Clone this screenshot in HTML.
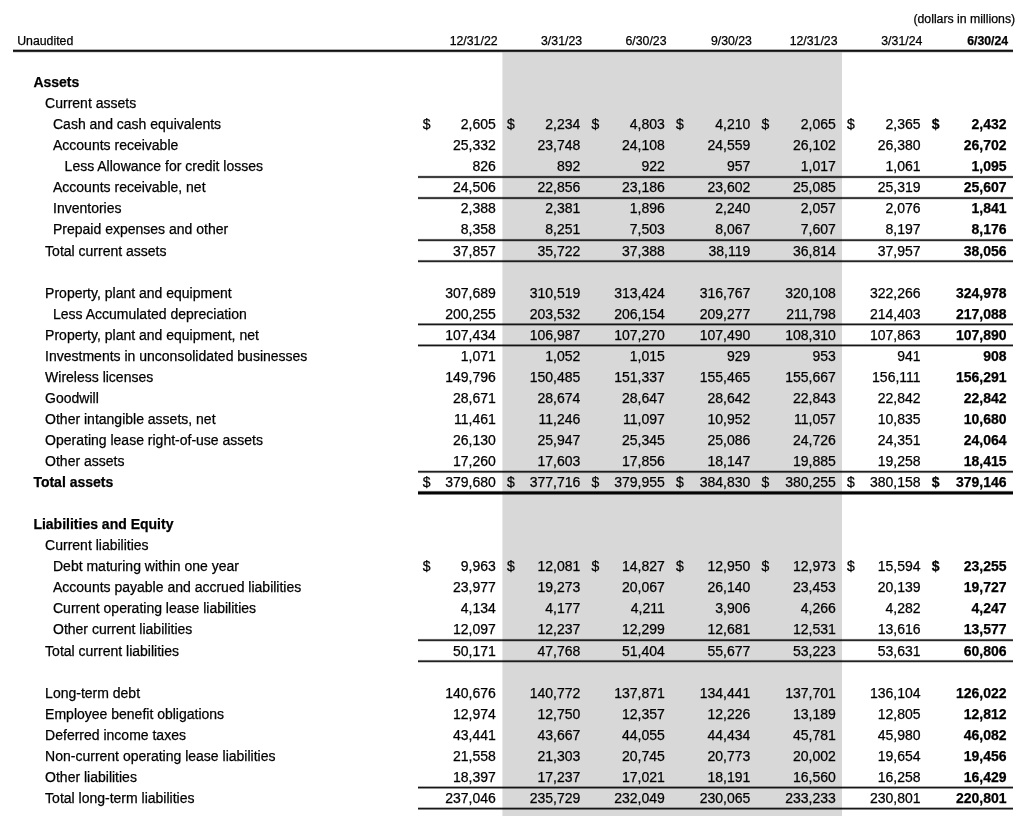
<!DOCTYPE html><html><head><meta charset="utf-8"><title>Balance Sheet</title><style>
html,body{margin:0;padding:0;background:#fff;}
body{filter:grayscale(1);}
body{width:1024px;height:816px;overflow:hidden;position:relative;font-family:"Liberation Sans",sans-serif;color:#000;}
.t{position:absolute;white-space:pre;font-size:14px;line-height:16px;height:16px;}
.s{position:absolute;white-space:pre;font-size:12.3px;line-height:14px;height:14px;}
.r{text-align:right;}
.b{font-weight:bold;}
.t,.s{-webkit-text-stroke:0.25px #000;}
.t.b,.s.b{-webkit-text-stroke:0.25px #000;}
.ln{position:absolute;background:#222;}
#gray{position:absolute;left:503px;top:53px;width:339px;height:763px;background:#d8d8d8;}
#gedge{position:absolute;left:502px;top:53px;width:1px;height:763px;background:#e8e8e8;}
#gtop{position:absolute;left:502px;top:52px;width:340px;height:1px;background:#e6e6e6;}
</style></head><body>
<div id="gray"></div><div id="gedge"></div><div id="gtop"></div>
<div class="s r" style="right:8.80px;top:11.90px;">(dollars in millions)</div>
<div class="s" style="left:17.2px;top:34.20px;">Unaudited</div>
<div class="s r" style="right:526.45px;top:34.20px;">12/31/22</div>
<div class="s r" style="right:441.95px;top:34.20px;">3/31/23</div>
<div class="s r" style="right:357.50px;top:34.20px;">6/30/23</div>
<div class="s r" style="right:272.05px;top:34.20px;">9/30/23</div>
<div class="s r" style="right:186.50px;top:34.20px;">12/31/23</div>
<div class="s r" style="right:101.70px;top:34.20px;">3/31/24</div>
<div class="s r b" style="right:15.80px;top:34.20px;">6/30/24</div>
<div class="ln" style="left:13px;top:49px;width:1000px;height:1px;background:rgba(0,0,0,0.310);"></div>
<div class="ln" style="left:13px;top:50px;width:1000px;height:1px;background:rgba(0,0,0,0.934);"></div>
<div class="ln" style="left:13px;top:51px;width:1000px;height:1px;background:rgba(0,0,0,0.815);"></div>
<div class="ln" style="left:13px;top:52px;width:1000px;height:1px;background:rgba(0,0,0,0.135);"></div>
<div class="t b" style="left:33.40px;top:74.08px;">Assets</div>
<div class="t" style="left:45.10px;top:95.13px;">Current assets</div>
<div class="t" style="left:53.00px;top:116.19px;">Cash and cash equivalents</div>
<div class="t r" style="right:528.15px;top:116.19px;">2,605</div>
<div class="t" style="left:422.80px;top:116.19px;">$</div>
<div class="t r" style="right:443.65px;top:116.19px;">2,234</div>
<div class="t" style="left:507.05px;top:116.19px;">$</div>
<div class="t r" style="right:359.20px;top:116.19px;">4,803</div>
<div class="t" style="left:591.55px;top:116.19px;">$</div>
<div class="t r" style="right:273.75px;top:116.19px;">4,210</div>
<div class="t" style="left:676.00px;top:116.19px;">$</div>
<div class="t r" style="right:188.20px;top:116.19px;">2,065</div>
<div class="t" style="left:761.45px;top:116.19px;">$</div>
<div class="t r" style="right:103.40px;top:116.19px;">2,365</div>
<div class="t" style="left:847.00px;top:116.19px;">$</div>
<div class="t r b" style="right:17.50px;top:116.19px;">2,432</div>
<div class="t b" style="left:931.80px;top:116.19px;">$</div>
<div class="t" style="left:53.00px;top:137.24px;">Accounts receivable</div>
<div class="t r" style="right:528.15px;top:137.24px;">25,332</div>
<div class="t r" style="right:443.65px;top:137.24px;">23,748</div>
<div class="t r" style="right:359.20px;top:137.24px;">24,108</div>
<div class="t r" style="right:273.75px;top:137.24px;">24,559</div>
<div class="t r" style="right:188.20px;top:137.24px;">26,102</div>
<div class="t r" style="right:103.40px;top:137.24px;">26,380</div>
<div class="t r b" style="right:17.50px;top:137.24px;">26,702</div>
<div class="t" style="left:64.60px;top:158.30px;">Less Allowance for credit losses</div>
<div class="t r" style="right:528.15px;top:158.30px;">826</div>
<div class="t r" style="right:443.65px;top:158.30px;">892</div>
<div class="t r" style="right:359.20px;top:158.30px;">922</div>
<div class="t r" style="right:273.75px;top:158.30px;">957</div>
<div class="t r" style="right:188.20px;top:158.30px;">1,017</div>
<div class="t r" style="right:103.40px;top:158.30px;">1,061</div>
<div class="t r b" style="right:17.50px;top:158.30px;">1,095</div>
<div class="t" style="left:53.00px;top:179.35px;">Accounts receivable, net</div>
<div class="t r" style="right:528.15px;top:179.35px;">24,506</div>
<div class="t r" style="right:443.65px;top:179.35px;">22,856</div>
<div class="t r" style="right:359.20px;top:179.35px;">23,186</div>
<div class="t r" style="right:273.75px;top:179.35px;">23,602</div>
<div class="t r" style="right:188.20px;top:179.35px;">25,085</div>
<div class="t r" style="right:103.40px;top:179.35px;">25,319</div>
<div class="t r b" style="right:17.50px;top:179.35px;">25,607</div>
<div class="t" style="left:53.00px;top:200.40px;">Inventories</div>
<div class="t r" style="right:528.15px;top:200.40px;">2,388</div>
<div class="t r" style="right:443.65px;top:200.40px;">2,381</div>
<div class="t r" style="right:359.20px;top:200.40px;">1,896</div>
<div class="t r" style="right:273.75px;top:200.40px;">2,240</div>
<div class="t r" style="right:188.20px;top:200.40px;">2,057</div>
<div class="t r" style="right:103.40px;top:200.40px;">2,076</div>
<div class="t r b" style="right:17.50px;top:200.40px;">1,841</div>
<div class="t" style="left:53.00px;top:221.46px;">Prepaid expenses and other</div>
<div class="t r" style="right:528.15px;top:221.46px;">8,358</div>
<div class="t r" style="right:443.65px;top:221.46px;">8,251</div>
<div class="t r" style="right:359.20px;top:221.46px;">7,503</div>
<div class="t r" style="right:273.75px;top:221.46px;">8,067</div>
<div class="t r" style="right:188.20px;top:221.46px;">7,607</div>
<div class="t r" style="right:103.40px;top:221.46px;">8,197</div>
<div class="t r b" style="right:17.50px;top:221.46px;">8,176</div>
<div class="t" style="left:45.10px;top:242.51px;">Total current assets</div>
<div class="t r" style="right:528.15px;top:242.51px;">37,857</div>
<div class="t r" style="right:443.65px;top:242.51px;">35,722</div>
<div class="t r" style="right:359.20px;top:242.51px;">37,388</div>
<div class="t r" style="right:273.75px;top:242.51px;">38,119</div>
<div class="t r" style="right:188.20px;top:242.51px;">36,814</div>
<div class="t r" style="right:103.40px;top:242.51px;">37,957</div>
<div class="t r b" style="right:17.50px;top:242.51px;">38,056</div>
<div class="t" style="left:45.10px;top:284.62px;">Property, plant and equipment</div>
<div class="t r" style="right:528.15px;top:284.62px;">307,689</div>
<div class="t r" style="right:443.65px;top:284.62px;">310,519</div>
<div class="t r" style="right:359.20px;top:284.62px;">313,424</div>
<div class="t r" style="right:273.75px;top:284.62px;">316,767</div>
<div class="t r" style="right:188.20px;top:284.62px;">320,108</div>
<div class="t r" style="right:103.40px;top:284.62px;">322,266</div>
<div class="t r b" style="right:17.50px;top:284.62px;">324,978</div>
<div class="t" style="left:53.00px;top:305.67px;">Less Accumulated depreciation</div>
<div class="t r" style="right:528.15px;top:305.67px;">200,255</div>
<div class="t r" style="right:443.65px;top:305.67px;">203,532</div>
<div class="t r" style="right:359.20px;top:305.67px;">206,154</div>
<div class="t r" style="right:273.75px;top:305.67px;">209,277</div>
<div class="t r" style="right:188.20px;top:305.67px;">211,798</div>
<div class="t r" style="right:103.40px;top:305.67px;">214,403</div>
<div class="t r b" style="right:17.50px;top:305.67px;">217,088</div>
<div class="t" style="left:45.10px;top:326.73px;">Property, plant and equipment, net</div>
<div class="t r" style="right:528.15px;top:326.73px;">107,434</div>
<div class="t r" style="right:443.65px;top:326.73px;">106,987</div>
<div class="t r" style="right:359.20px;top:326.73px;">107,270</div>
<div class="t r" style="right:273.75px;top:326.73px;">107,490</div>
<div class="t r" style="right:188.20px;top:326.73px;">108,310</div>
<div class="t r" style="right:103.40px;top:326.73px;">107,863</div>
<div class="t r b" style="right:17.50px;top:326.73px;">107,890</div>
<div class="t" style="left:45.10px;top:347.78px;">Investments in unconsolidated businesses</div>
<div class="t r" style="right:528.15px;top:347.78px;">1,071</div>
<div class="t r" style="right:443.65px;top:347.78px;">1,052</div>
<div class="t r" style="right:359.20px;top:347.78px;">1,015</div>
<div class="t r" style="right:273.75px;top:347.78px;">929</div>
<div class="t r" style="right:188.20px;top:347.78px;">953</div>
<div class="t r" style="right:103.40px;top:347.78px;">941</div>
<div class="t r b" style="right:17.50px;top:347.78px;">908</div>
<div class="t" style="left:45.10px;top:368.84px;">Wireless licenses</div>
<div class="t r" style="right:528.15px;top:368.84px;">149,796</div>
<div class="t r" style="right:443.65px;top:368.84px;">150,485</div>
<div class="t r" style="right:359.20px;top:368.84px;">151,337</div>
<div class="t r" style="right:273.75px;top:368.84px;">155,465</div>
<div class="t r" style="right:188.20px;top:368.84px;">155,667</div>
<div class="t r" style="right:103.40px;top:368.84px;">156,111</div>
<div class="t r b" style="right:17.50px;top:368.84px;">156,291</div>
<div class="t" style="left:45.10px;top:389.89px;">Goodwill</div>
<div class="t r" style="right:528.15px;top:389.89px;">28,671</div>
<div class="t r" style="right:443.65px;top:389.89px;">28,674</div>
<div class="t r" style="right:359.20px;top:389.89px;">28,647</div>
<div class="t r" style="right:273.75px;top:389.89px;">28,642</div>
<div class="t r" style="right:188.20px;top:389.89px;">22,843</div>
<div class="t r" style="right:103.40px;top:389.89px;">22,842</div>
<div class="t r b" style="right:17.50px;top:389.89px;">22,842</div>
<div class="t" style="left:45.10px;top:410.94px;">Other intangible assets, net</div>
<div class="t r" style="right:528.15px;top:410.94px;">11,461</div>
<div class="t r" style="right:443.65px;top:410.94px;">11,246</div>
<div class="t r" style="right:359.20px;top:410.94px;">11,097</div>
<div class="t r" style="right:273.75px;top:410.94px;">10,952</div>
<div class="t r" style="right:188.20px;top:410.94px;">11,057</div>
<div class="t r" style="right:103.40px;top:410.94px;">10,835</div>
<div class="t r b" style="right:17.50px;top:410.94px;">10,680</div>
<div class="t" style="left:45.10px;top:432.00px;">Operating lease right-of-use assets</div>
<div class="t r" style="right:528.15px;top:432.00px;">26,130</div>
<div class="t r" style="right:443.65px;top:432.00px;">25,947</div>
<div class="t r" style="right:359.20px;top:432.00px;">25,345</div>
<div class="t r" style="right:273.75px;top:432.00px;">25,086</div>
<div class="t r" style="right:188.20px;top:432.00px;">24,726</div>
<div class="t r" style="right:103.40px;top:432.00px;">24,351</div>
<div class="t r b" style="right:17.50px;top:432.00px;">24,064</div>
<div class="t" style="left:45.10px;top:453.05px;">Other assets</div>
<div class="t r" style="right:528.15px;top:453.05px;">17,260</div>
<div class="t r" style="right:443.65px;top:453.05px;">17,603</div>
<div class="t r" style="right:359.20px;top:453.05px;">17,856</div>
<div class="t r" style="right:273.75px;top:453.05px;">18,147</div>
<div class="t r" style="right:188.20px;top:453.05px;">19,885</div>
<div class="t r" style="right:103.40px;top:453.05px;">19,258</div>
<div class="t r b" style="right:17.50px;top:453.05px;">18,415</div>
<div class="t b" style="left:33.40px;top:474.11px;">Total assets</div>
<div class="t r" style="right:528.15px;top:474.11px;">379,680</div>
<div class="t" style="left:422.80px;top:474.11px;">$</div>
<div class="t r" style="right:443.65px;top:474.11px;">377,716</div>
<div class="t" style="left:507.05px;top:474.11px;">$</div>
<div class="t r" style="right:359.20px;top:474.11px;">379,955</div>
<div class="t" style="left:591.55px;top:474.11px;">$</div>
<div class="t r" style="right:273.75px;top:474.11px;">384,830</div>
<div class="t" style="left:676.00px;top:474.11px;">$</div>
<div class="t r" style="right:188.20px;top:474.11px;">380,255</div>
<div class="t" style="left:761.45px;top:474.11px;">$</div>
<div class="t r" style="right:103.40px;top:474.11px;">380,158</div>
<div class="t" style="left:847.00px;top:474.11px;">$</div>
<div class="t r b" style="right:17.50px;top:474.11px;">379,146</div>
<div class="t b" style="left:931.80px;top:474.11px;">$</div>
<div class="t b" style="left:33.40px;top:516.21px;">Liabilities and Equity</div>
<div class="t" style="left:45.10px;top:537.27px;">Current liabilities</div>
<div class="t" style="left:53.00px;top:558.32px;">Debt maturing within one year</div>
<div class="t r" style="right:528.15px;top:558.32px;">9,963</div>
<div class="t" style="left:422.80px;top:558.32px;">$</div>
<div class="t r" style="right:443.65px;top:558.32px;">12,081</div>
<div class="t" style="left:507.05px;top:558.32px;">$</div>
<div class="t r" style="right:359.20px;top:558.32px;">14,827</div>
<div class="t" style="left:591.55px;top:558.32px;">$</div>
<div class="t r" style="right:273.75px;top:558.32px;">12,950</div>
<div class="t" style="left:676.00px;top:558.32px;">$</div>
<div class="t r" style="right:188.20px;top:558.32px;">12,973</div>
<div class="t" style="left:761.45px;top:558.32px;">$</div>
<div class="t r" style="right:103.40px;top:558.32px;">15,594</div>
<div class="t" style="left:847.00px;top:558.32px;">$</div>
<div class="t r b" style="right:17.50px;top:558.32px;">23,255</div>
<div class="t b" style="left:931.80px;top:558.32px;">$</div>
<div class="t" style="left:53.00px;top:579.38px;">Accounts payable and accrued liabilities</div>
<div class="t r" style="right:528.15px;top:579.38px;">23,977</div>
<div class="t r" style="right:443.65px;top:579.38px;">19,273</div>
<div class="t r" style="right:359.20px;top:579.38px;">20,067</div>
<div class="t r" style="right:273.75px;top:579.38px;">26,140</div>
<div class="t r" style="right:188.20px;top:579.38px;">23,453</div>
<div class="t r" style="right:103.40px;top:579.38px;">20,139</div>
<div class="t r b" style="right:17.50px;top:579.38px;">19,727</div>
<div class="t" style="left:53.00px;top:600.43px;">Current operating lease liabilities</div>
<div class="t r" style="right:528.15px;top:600.43px;">4,134</div>
<div class="t r" style="right:443.65px;top:600.43px;">4,177</div>
<div class="t r" style="right:359.20px;top:600.43px;">4,211</div>
<div class="t r" style="right:273.75px;top:600.43px;">3,906</div>
<div class="t r" style="right:188.20px;top:600.43px;">4,266</div>
<div class="t r" style="right:103.40px;top:600.43px;">4,282</div>
<div class="t r b" style="right:17.50px;top:600.43px;">4,247</div>
<div class="t" style="left:53.00px;top:621.48px;">Other current liabilities</div>
<div class="t r" style="right:528.15px;top:621.48px;">12,097</div>
<div class="t r" style="right:443.65px;top:621.48px;">12,237</div>
<div class="t r" style="right:359.20px;top:621.48px;">12,299</div>
<div class="t r" style="right:273.75px;top:621.48px;">12,681</div>
<div class="t r" style="right:188.20px;top:621.48px;">12,531</div>
<div class="t r" style="right:103.40px;top:621.48px;">13,616</div>
<div class="t r b" style="right:17.50px;top:621.48px;">13,577</div>
<div class="t" style="left:45.10px;top:642.54px;">Total current liabilities</div>
<div class="t r" style="right:528.15px;top:642.54px;">50,171</div>
<div class="t r" style="right:443.65px;top:642.54px;">47,768</div>
<div class="t r" style="right:359.20px;top:642.54px;">51,404</div>
<div class="t r" style="right:273.75px;top:642.54px;">55,677</div>
<div class="t r" style="right:188.20px;top:642.54px;">53,223</div>
<div class="t r" style="right:103.40px;top:642.54px;">53,631</div>
<div class="t r b" style="right:17.50px;top:642.54px;">60,806</div>
<div class="t" style="left:45.10px;top:684.65px;">Long-term debt</div>
<div class="t r" style="right:528.15px;top:684.65px;">140,676</div>
<div class="t r" style="right:443.65px;top:684.65px;">140,772</div>
<div class="t r" style="right:359.20px;top:684.65px;">137,871</div>
<div class="t r" style="right:273.75px;top:684.65px;">134,441</div>
<div class="t r" style="right:188.20px;top:684.65px;">137,701</div>
<div class="t r" style="right:103.40px;top:684.65px;">136,104</div>
<div class="t r b" style="right:17.50px;top:684.65px;">126,022</div>
<div class="t" style="left:45.10px;top:705.70px;">Employee benefit obligations</div>
<div class="t r" style="right:528.15px;top:705.70px;">12,974</div>
<div class="t r" style="right:443.65px;top:705.70px;">12,750</div>
<div class="t r" style="right:359.20px;top:705.70px;">12,357</div>
<div class="t r" style="right:273.75px;top:705.70px;">12,226</div>
<div class="t r" style="right:188.20px;top:705.70px;">13,189</div>
<div class="t r" style="right:103.40px;top:705.70px;">12,805</div>
<div class="t r b" style="right:17.50px;top:705.70px;">12,812</div>
<div class="t" style="left:45.10px;top:726.75px;">Deferred income taxes</div>
<div class="t r" style="right:528.15px;top:726.75px;">43,441</div>
<div class="t r" style="right:443.65px;top:726.75px;">43,667</div>
<div class="t r" style="right:359.20px;top:726.75px;">44,055</div>
<div class="t r" style="right:273.75px;top:726.75px;">44,434</div>
<div class="t r" style="right:188.20px;top:726.75px;">45,781</div>
<div class="t r" style="right:103.40px;top:726.75px;">45,980</div>
<div class="t r b" style="right:17.50px;top:726.75px;">46,082</div>
<div class="t" style="left:45.10px;top:747.81px;">Non-current operating lease liabilities</div>
<div class="t r" style="right:528.15px;top:747.81px;">21,558</div>
<div class="t r" style="right:443.65px;top:747.81px;">21,303</div>
<div class="t r" style="right:359.20px;top:747.81px;">20,745</div>
<div class="t r" style="right:273.75px;top:747.81px;">20,773</div>
<div class="t r" style="right:188.20px;top:747.81px;">20,002</div>
<div class="t r" style="right:103.40px;top:747.81px;">19,654</div>
<div class="t r b" style="right:17.50px;top:747.81px;">19,456</div>
<div class="t" style="left:45.10px;top:768.86px;">Other liabilities</div>
<div class="t r" style="right:528.15px;top:768.86px;">18,397</div>
<div class="t r" style="right:443.65px;top:768.86px;">17,237</div>
<div class="t r" style="right:359.20px;top:768.86px;">17,021</div>
<div class="t r" style="right:273.75px;top:768.86px;">18,191</div>
<div class="t r" style="right:188.20px;top:768.86px;">16,560</div>
<div class="t r" style="right:103.40px;top:768.86px;">16,258</div>
<div class="t r b" style="right:17.50px;top:768.86px;">16,429</div>
<div class="t" style="left:45.10px;top:789.92px;">Total long-term liabilities</div>
<div class="t r" style="right:528.15px;top:789.92px;">237,046</div>
<div class="t r" style="right:443.65px;top:789.92px;">235,729</div>
<div class="t r" style="right:359.20px;top:789.92px;">232,049</div>
<div class="t r" style="right:273.75px;top:789.92px;">230,065</div>
<div class="t r" style="right:188.20px;top:789.92px;">233,233</div>
<div class="t r" style="right:103.40px;top:789.92px;">230,801</div>
<div class="t r b" style="right:17.50px;top:789.92px;">220,801</div>
<div class="ln" style="left:418px;top:175px;width:595px;height:1px;background:rgba(0,0,0,0.097);"></div>
<div class="ln" style="left:418px;top:176px;width:595px;height:1px;background:rgba(0,0,0,0.757);"></div>
<div class="ln" style="left:418px;top:177px;width:595px;height:1px;background:rgba(0,0,0,0.752);"></div>
<div class="ln" style="left:418px;top:178px;width:595px;height:1px;background:rgba(0,0,0,0.094);"></div>
<div class="ln" style="left:418px;top:196px;width:595px;height:1px;background:rgba(0,0,0,0.079);"></div>
<div class="ln" style="left:418px;top:197px;width:595px;height:1px;background:rgba(0,0,0,0.723);"></div>
<div class="ln" style="left:418px;top:198px;width:595px;height:1px;background:rgba(0,0,0,0.784);"></div>
<div class="ln" style="left:418px;top:199px;width:595px;height:1px;background:rgba(0,0,0,0.114);"></div>
<div class="ln" style="left:418px;top:238px;width:595px;height:1px;background:rgba(0,0,0,0.051);"></div>
<div class="ln" style="left:418px;top:239px;width:595px;height:1px;background:rgba(0,0,0,0.647);"></div>
<div class="ln" style="left:418px;top:240px;width:595px;height:1px;background:rgba(0,0,0,0.838);"></div>
<div class="ln" style="left:418px;top:241px;width:595px;height:1px;background:rgba(0,0,0,0.163);"></div>
<div class="ln" style="left:418px;top:259px;width:595px;height:1px;background:rgba(0,0,0,0.040);"></div>
<div class="ln" style="left:418px;top:260px;width:595px;height:1px;background:rgba(0,0,0,0.607);"></div>
<div class="ln" style="left:418px;top:261px;width:595px;height:1px;background:rgba(0,0,0,0.861);"></div>
<div class="ln" style="left:418px;top:262px;width:595px;height:1px;background:rgba(0,0,0,0.191);"></div>
<div class="ln" style="left:418px;top:323px;width:595px;height:1px;background:rgba(0,0,0,0.481);"></div>
<div class="ln" style="left:418px;top:324px;width:595px;height:1px;background:rgba(0,0,0,0.905);"></div>
<div class="ln" style="left:418px;top:325px;width:595px;height:1px;background:rgba(0,0,0,0.292);"></div>
<div class="ln" style="left:418px;top:344px;width:595px;height:1px;background:rgba(0,0,0,0.439);"></div>
<div class="ln" style="left:418px;top:345px;width:595px;height:1px;background:rgba(0,0,0,0.913);"></div>
<div class="ln" style="left:418px;top:346px;width:595px;height:1px;background:rgba(0,0,0,0.330);"></div>
<div class="ln" style="left:418px;top:470px;width:595px;height:1px;background:rgba(0,0,0,0.212);"></div>
<div class="ln" style="left:418px;top:471px;width:595px;height:1px;background:rgba(0,0,0,0.874);"></div>
<div class="ln" style="left:418px;top:472px;width:595px;height:1px;background:rgba(0,0,0,0.580);"></div>
<div class="ln" style="left:418px;top:473px;width:595px;height:1px;background:rgba(0,0,0,0.034);"></div>
<div class="ln" style="left:418px;top:638px;width:595px;height:1px;background:rgba(0,0,0,0.045);"></div>
<div class="ln" style="left:418px;top:639px;width:595px;height:1px;background:rgba(0,0,0,0.628);"></div>
<div class="ln" style="left:418px;top:640px;width:595px;height:1px;background:rgba(0,0,0,0.850);"></div>
<div class="ln" style="left:418px;top:641px;width:595px;height:1px;background:rgba(0,0,0,0.176);"></div>
<div class="ln" style="left:418px;top:659px;width:595px;height:1px;background:rgba(0,0,0,0.035);"></div>
<div class="ln" style="left:418px;top:660px;width:595px;height:1px;background:rgba(0,0,0,0.587);"></div>
<div class="ln" style="left:418px;top:661px;width:595px;height:1px;background:rgba(0,0,0,0.870);"></div>
<div class="ln" style="left:418px;top:662px;width:595px;height:1px;background:rgba(0,0,0,0.206);"></div>
<div class="ln" style="left:418px;top:786px;width:595px;height:1px;background:rgba(0,0,0,0.337);"></div>
<div class="ln" style="left:418px;top:787px;width:595px;height:1px;background:rgba(0,0,0,0.914);"></div>
<div class="ln" style="left:418px;top:788px;width:595px;height:1px;background:rgba(0,0,0,0.431);"></div>
<div class="ln" style="left:418px;top:807px;width:595px;height:1px;background:rgba(0,0,0,0.299);"></div>
<div class="ln" style="left:418px;top:808px;width:595px;height:1px;background:rgba(0,0,0,0.907);"></div>
<div class="ln" style="left:418px;top:809px;width:595px;height:1px;background:rgba(0,0,0,0.473);"></div>
<div class="ln" style="left:418px;top:490px;width:595px;height:1px;background:rgba(0,0,0,0.051);"></div>
<div class="ln" style="left:418px;top:491px;width:595px;height:1px;background:rgba(0,0,0,0.650);"></div>
<div class="ln" style="left:418px;top:492px;width:595px;height:1px;background:rgba(0,0,0,0.993);"></div>
<div class="ln" style="left:418px;top:493px;width:595px;height:1px;background:rgba(0,0,0,0.980);"></div>
<div class="ln" style="left:418px;top:494px;width:595px;height:1px;background:rgba(0,0,0,0.505);"></div>
</body></html>
